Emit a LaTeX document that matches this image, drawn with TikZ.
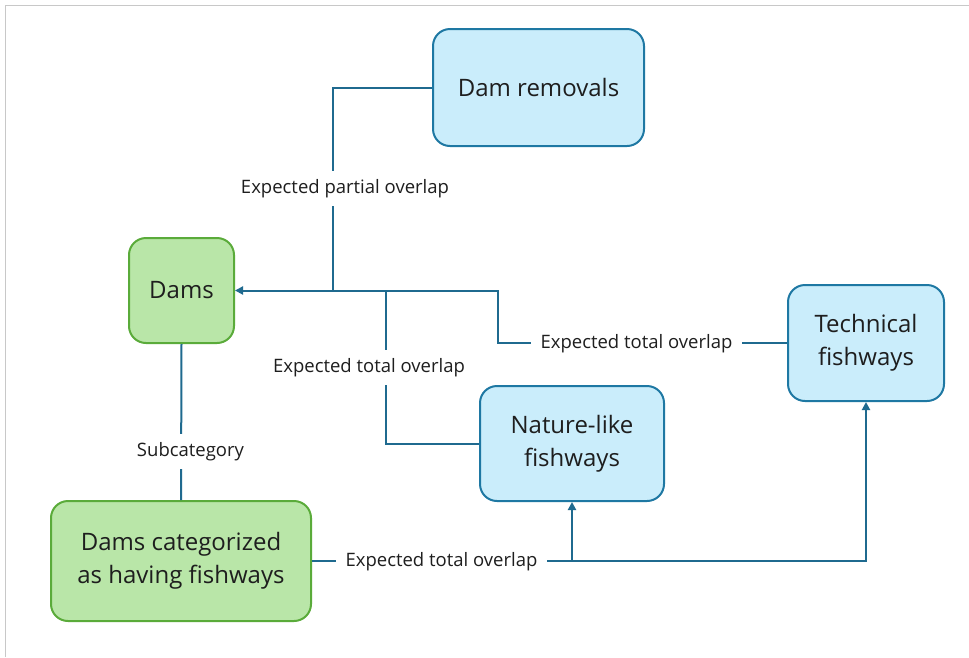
\documentclass[tikz,border=0pt]{standalone}
\usepackage{fontspec}
\setmainfont{Open Sans}
\usetikzlibrary{arrows.meta}
\definecolor{conncol}{HTML}{1F6A8F}
\definecolor{bluefill}{HTML}{CAEDFB}
\definecolor{blueline}{HTML}{1E78A3}
\definecolor{greenfill}{HTML}{B9E6A8}
\definecolor{greenline}{HTML}{5AAB3A}
\definecolor{txt}{HTML}{1E1E1E}
\definecolor{frame}{HTML}{C8C8C8}
\tikzset{
  box/.style={rectangle, rounded corners=17pt, line width=2pt, inner sep=0pt, align=center, text=txt,
    font=\fontsize{24}{33}\selectfont},
  bluebox/.style={box, draw=blueline, fill=bluefill},
  greenbox/.style={box, draw=greenline, fill=greenfill},
  conn/.style={draw=conncol, line width=2pt},
  tip/.style={-{Triangle[length=8pt,width=8pt]}},
  lbl/.style={fill=white, text=txt, inner xsep=10pt, inner ysep=8pt, font=\fontsize{18.5}{22}\selectfont}
}
\begin{document}
\begin{tikzpicture}[x=1pt,y=-1pt]
\useasboundingbox (0,0) rectangle (969,657);
\fill[white] (0,0) rectangle (969,657);
\draw[frame, line width=1.5pt] (5.5,657) -- (5.5,5.5) -- (969,5.5);

\node[bluebox, minimum width=211pt, minimum height=117pt] (rem) at (538.5,87.5) {Dam removals};
\node[greenbox, minimum width=105pt, minimum height=105pt] (dams) at (181.5,290.5) {Dams};
\node[bluebox, minimum width=156pt, minimum height=116pt] (tech) at (866,343) {Technical\\fishways};
\node[bluebox, minimum width=184pt, minimum height=115pt] (nat) at (572,443.5) {Nature-like\\fishways};
\node[greenbox, minimum width=260pt, minimum height=120pt] (cat) at (181,561) {Dams categorized\\as having fishways};

\coordinate (j1) at (333,290.5);
\coordinate (j2) at (386,290.5);
\coordinate (j3) at (498,290.5);

\draw[conn] (rem.west) -| (j1);
\draw[conn] (nat.west) -| (j2);
\draw[conn] (tech.west) -| (j3) -- (j1);
\draw[conn,tip] (j1) -- (dams.east);
\draw[conn] (dams.south) -- (cat.north);
\draw[conn,tip] (cat.east) -| (nat.south);
\draw[conn,tip] (cat.east) -| (tech.south);

\node[lbl] (l1) at (345,188.5) {Expected partial overlap};
\node[lbl] (l2) at (369,367.5) {Expected total overlap};
\node[lbl] (l3) at (636.5,344) {Expected total overlap};
\node[lbl] (l4) at (190.5,451.5) {Subcategory};
\node[lbl] (l5) at (441.5,562) {Expected total overlap};
\end{tikzpicture}
\end{document}
